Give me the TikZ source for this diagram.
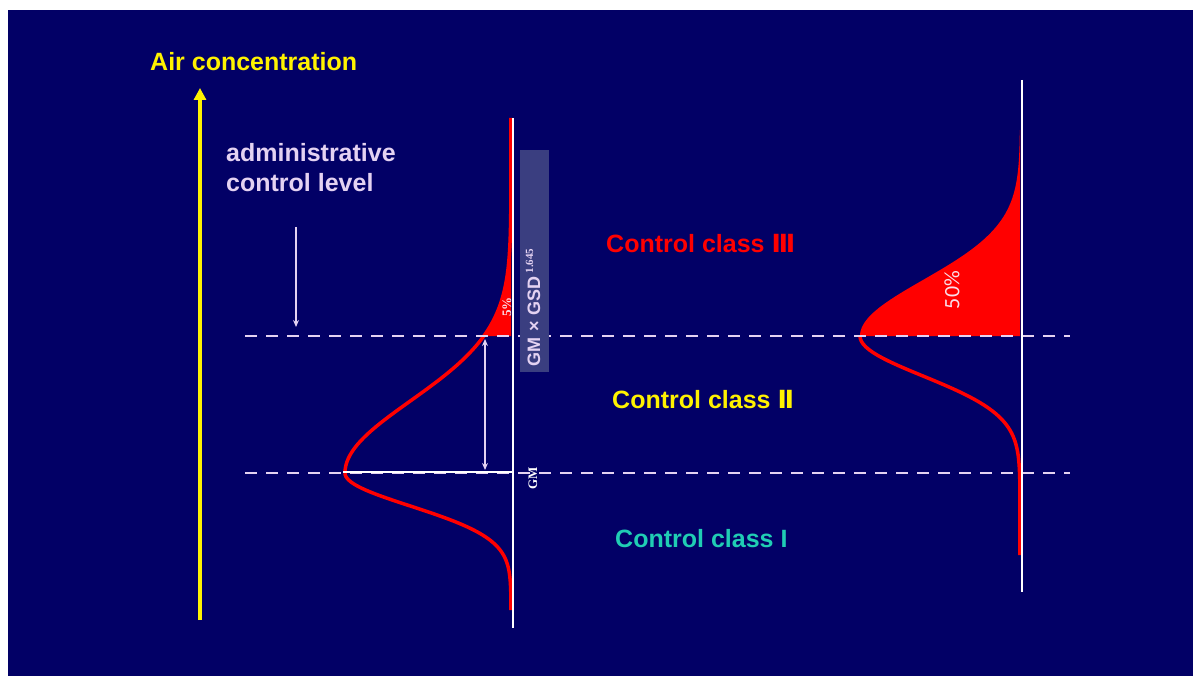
\documentclass[tikz,border=0pt]{standalone}
\usepackage{fontspec}
\setmainfont{Liberation Sans}
\newfontfamily\timesfont{Liberation Serif}
\newfontfamily\calfont{Carlito}
\newfontfamily\romfont{DejaVu Sans}
\usetikzlibrary{arrows.meta}
\definecolor{navy}{RGB}{2,0,102}
\definecolor{lilac}{RGB}{228,210,242}
\definecolor{classone}{RGB}{32,205,180}
\definecolor{slatebox}{RGB}{58,62,128}
\definecolor{pinkwhite}{RGB}{250,222,232}

\begin{document}
\begin{tikzpicture}[x=1pt, y=-1pt,
  declare function={bell(\t,\m,\s)=exp(-min(9,0.5*((\t-\m)/\s)^2));},
  lbl/.style={font=\bfseries\fontsize{25}{30}\selectfont, anchor=base west, inner sep=0pt},
  level/.style={lilac, line width=2.5pt, dash pattern=on 12pt off 9pt},
  axisline/.style={white, line width=2.5pt},
  curve/.style={red, line width=3.5pt},
  tinyarrow/.style={lilac, line width=1.3pt}]
  \fill[white] (0,0) rectangle (1193,676);
  \fill[navy] (8,10) rectangle (1193,676);
  \useasboundingbox (0,0) rectangle (1193,676);

  % air concentration axis
  \coordinate (ybot) at (200,620);
  \coordinate (ytop) at (200,88);
  \draw[yellow, line width=3.5pt, -{Triangle[length=12pt,width=12pt]}] (ybot) -- (ytop);
  \node[lbl, yellow] (air) at (150,71) {Air concentration};
  \node[lbl, lilac] (adm1) at (226,162) {administrative};
  \node[lbl, lilac] (adm2) at (226,192) {control level};
  \coordinate (admtop) at (296,227);
  \coordinate (admbot) at (296,327);
  \draw[tinyarrow, -{Stealth[length=7pt,width=6pt]}] (admtop) -- (admbot);

  % left distribution
  \fill[red] plot[domain=118:336, variable=\t, samples=80] ({511-166*bell(\t,473,72)},\t)
    -- (511,336) -- (511,118) -- cycle;
  \draw[curve] plot[domain=118:473, variable=\t, samples=100] ({511-166*bell(\t,473,72)},\t);
  \draw[curve] plot[domain=473:610, variable=\t, samples=80] ({511-166*bell(\t,473,33)},\t);

  % right distribution
  \fill[red] plot[domain=130:336, variable=\t, samples=80] ({1020-160*bell(\t,336,56)},\t)
    -- (1020,336) -- (1020,130) -- cycle;
  \draw[curve] plot[domain=336:555, variable=\t, samples=80] ({1020-160*bell(\t,336,40)},\t);

  % levels
  \coordinate (adm-l) at (245,336);
  \coordinate (adm-r) at (1070,336);
  \coordinate (gm-l) at (245,473);
  \coordinate (gm-r) at (1070,473);
  \draw[level] (adm-l) -- (adm-r);
  \draw[level] (gm-l) -- (gm-r);

  \coordinate (lpeak) at (343,472);
  \coordinate (lax) at (513,472);
  \draw[white, line width=2pt] (lpeak) -- (lax);

  \coordinate (ltop) at (513,118);
  \coordinate (lbot) at (513,628);
  \coordinate (rtop) at (1022,80);
  \coordinate (rbot) at (1022,592);
  \draw[axisline] (ltop) -- (lbot);
  \draw[axisline] (rtop) -- (rbot);

  \coordinate (spanhi) at (485,339);
  \coordinate (spanlo) at (485,470);
  \draw[tinyarrow, {Stealth[length=7pt,width=6pt]}-{Stealth[length=7pt,width=6pt]}] (spanhi) -- (spanlo);

  \node[fill=slatebox, minimum width=29pt, minimum height=222pt, inner sep=0pt] (gsdbox) at (534.5,261) {};
  \node[rotate=90, anchor=west, inner sep=0pt, text=lilac, font=\bfseries\fontsize{18}{20}\selectfont]
    (gsd) at (533,367) {GM\,\,×\,\,GSD\,{\timesfont\fontsize{11}{12}\selectfont\raisebox{7pt}{1.645}}};
  \node[rotate=90, text=pinkwhite, font=\timesfont\bfseries\fontsize{13}{14}\selectfont] (five) at (507,307) {5\%};
  \node[rotate=90, text=white, font=\timesfont\bfseries\fontsize{13}{14}\selectfont] (gmlbl) at (533,478) {GM};
  \node[rotate=90, text=pinkwhite, font=\calfont\fontsize{22}{24}\selectfont] (fifty) at (952,290) {50\%};

  % control classes
  \node[lbl, red] (c3) at (606,252) {Control class {\romfont Ⅲ}};
  \node[lbl, yellow] (c2) at (612,408) {Control class {\romfont Ⅱ}};
  \node[lbl, classone] (c1) at (615,547) {Control class I};
\end{tikzpicture}
\end{document}
